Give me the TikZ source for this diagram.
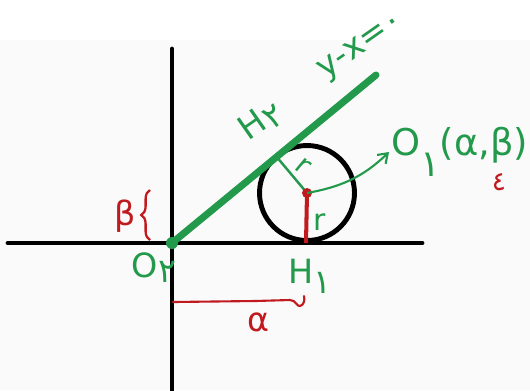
\documentclass[tikz,border=0pt]{standalone}
\usepackage{fontspec}
\setmainfont{DejaVu Sans}
\usepackage{tikz}
\usetikzlibrary{arrows.meta,positioning,decorations.pathreplacing}
\definecolor{pengreen}{HTML}{23994B}
\definecolor{penred}{HTML}{C01A1F}
\definecolor{paper}{HTML}{FAFAFA}

\begin{document}
\begin{tikzpicture}[x=0.02cm, y=-0.02cm, >={Straight Barb[length=5pt, width=7pt]}]
    \tikzstyle{axis line} = [draw=black, line width=2.8pt]
    \tikzstyle{green label} = [text=pengreen, inner sep=1pt, font=\fontsize{19}{21}\selectfont]
    \tikzstyle{red label} = [text=penred, inner sep=1pt, font=\fontsize{19}{21}\selectfont]
    \useasboundingbox (0,0) rectangle (530,390);
    \fill[paper] (0,40) rectangle (530,390);
    % axes
    \coordinate (origin) at (172,243);
    \coordinate (yaxistop) at (172,49);
    \coordinate (yaxisbottom) at (172,390);
    \coordinate (xaxisleft) at (8,243);
    \coordinate (xaxisright) at (422,243);
    \draw[axis line, line cap=round] (yaxistop) -- (yaxisbottom);
    \draw[axis line, line cap=round] (xaxisleft) -- (xaxisright);
    % circle and tangent line
    \node[circle, draw, line width=2.8pt, minimum size=1.9cm, inner sep=0pt] (circle) at (307,193) {};
    \coordinate (lineend) at (376,75);
    \coordinate (footone) at (306,243);
    \coordinate (foottwo) at (circle.130);
    \draw[pengreen, line width=4pt, line cap=round] (origin) -- (lineend);
    \draw[pengreen, line width=1.4pt] (circle.center) -- (foottwo);
    \draw[penred, line width=2.3pt] (circle.center) -- (footone);
    \fill[penred] (circle.center) circle (5);
    \fill[pengreen] (origin) circle (6);
    % labels
    \node[green label, rotate=35] (linelabel) at (362,47) {y-x=٠};
    \node[green label, rotate=35] (htwolabel) at (261,121) {H\raisebox{-0.15em}{٢}};
    \node[green label, rotate=-40, font=\fontsize{16}{18}\selectfont] (rtwo) at (303,166) {r};
    \node[green label, font=\fontsize{17}{19}\selectfont] (rone) at (320,222) {r};
    \node[green label, anchor=west, font=\fontsize{21}{23}\selectfont] (oonelabel) at (389,152) {O\raisebox{-0.55em}{١}(α,β)};
    \node[red label, font=\fontsize{15}{17}\selectfont] (betamark) at (499,182) {٤};
    \node[green label] (otwolabel) at (154,268) {O\raisebox{-0.15em}{٢}};
    \node[green label] (honelabel) at (310,276) {H\raisebox{-0.3em}{١}};
    \node[red label] (betalabel) at (125,216) {β};
    \node[red label] (alphalabel) at (258,322) {α};
    \draw[pengreen, line width=1.2pt, ->] (circle.center) .. controls (340,187) and (362,178) .. (oonelabel.west);
    % distance marks
    \draw[penred, line width=1.3pt, decorate, decoration={brace, amplitude=5pt}] (150,240) -- (150,190);
    \coordinate (alphastart) at (173,302);
    \draw[penred, line width=1.2pt, line cap=round] (alphastart) -- (255,301) -- (290,300)
        .. controls (296,300) and (297,307) .. (300,306) .. controls (304,305) and (305,300) .. (304,296);
\end{tikzpicture}
\end{document}
